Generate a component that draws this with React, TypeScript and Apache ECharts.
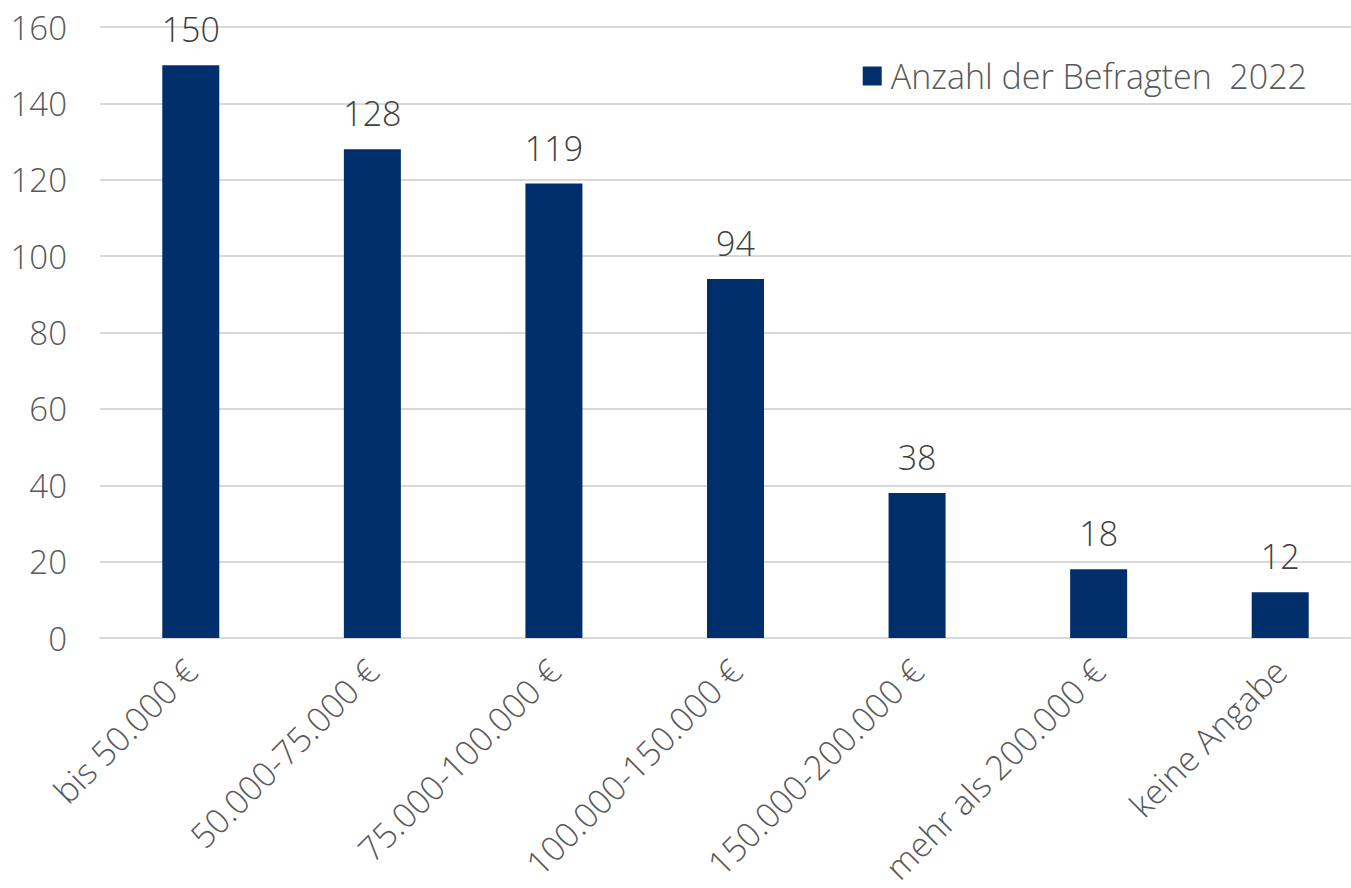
import React, { useEffect, useRef } from "react";
import * as echarts from "echarts";

const categories = [
  "bis 50.000 €",
  "50.000-75.000 €",
  "75.000-100.000 €",
  "100.000-150.000 €",
  "150.000-200.000 €",
  "mehr als 200.000 €",
  "keine Angabe",
];
const values = [150, 128, 119, 94, 38, 18, 12];
const seriesName = "Anzahl der Befragten  2022";
const yTicks = { min: 0, max: 160, interval: 20 };

const FONT = "'Open Sans', 'Noto Sans', sans-serif";

export default function App() {
  const ref = useRef<HTMLDivElement>(null);
  useEffect(() => {
    if (!ref.current) return;
    const chart = echarts.init(ref.current, undefined, { renderer: "svg" });
    chart.setOption({
      animation: false,
      backgroundColor: "#ffffff",
      grid: { left: 100, right: 0, top: 27, bottom: 250, containLabel: false },
      legend: {
        show: true,
        right: 59,
        top: 54,
        itemWidth: 19,
        itemHeight: 19,
        icon: "rect",
        textStyle: {
          fontFamily: FONT,
          fontSize: 34,
          fontWeight: 300,
          color: "#595959",
          padding: [0, 0, 0, 4],
        },
        data: [seriesName],
      },
      xAxis: {
        type: "category",
        data: categories,
        axisLine: { show: true, lineStyle: { color: "#d9d9d9", width: 2 } },
        axisTick: { show: false },
        axisLabel: {
          rotate: 45,
          interval: 0,
          margin: 27,
          fontFamily: FONT,
          fontSize: 34,
          fontWeight: 300,
          color: "#595959",
        },
      },
      yAxis: {
        type: "value",
        min: yTicks.min,
        max: yTicks.max,
        interval: yTicks.interval,
        axisLine: { show: false },
        axisTick: { show: false },
        splitLine: { show: true, lineStyle: { color: "#d9d9d9", width: 2 } },
        axisLabel: {
          margin: 33,
          fontFamily: FONT,
          fontSize: 33,
          fontWeight: 300,
          color: "#595959",
        },
      },
      series: [
        {
          name: seriesName,
          type: "bar",
          data: values,
          barWidth: 57,
          itemStyle: { color: "#002f6c" },
          label: {
            show: true,
            position: "top",
            distance: 19,
            fontFamily: FONT,
            fontSize: 34,
            fontWeight: 300,
            color: "#404040",
          },
        },
      ],
    });
    return () => chart.dispose();
  }, []);
  return (
    <div
      style={{
        position: "absolute",
        left: 0,
        top: 0,
        width: 1351,
        height: 888,
        overflow: "hidden",
        background: "#fff",
      }}
    >
      <div ref={ref} style={{ width: 1371, height: 888 }} />
    </div>
  );
}
